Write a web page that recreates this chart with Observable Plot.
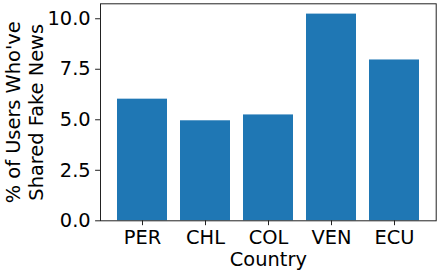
<!DOCTYPE html>
<html>
<head>
<meta charset="utf-8">
<script src="https://cdn.jsdelivr.net/npm/d3@7"></script>
<script src="https://cdn.jsdelivr.net/npm/@observablehq/plot@0.6"></script>
<style>
  html, body { margin: 0; padding: 0; background: #fff; }
  svg { display: block; }
  #chart svg text { font-size: 19.4px !important; font-family: "DejaVu Sans", sans-serif !important; font-variant-numeric: normal !important; }
</style>
</head>
<body>
<div id="chart"></div>
<script>
const countries = ["PER", "CHL", "COL", "VEN", "ECU"];
const shares = [6.02, 4.95, 5.24, 10.23, 7.96];
const yTicks = [0, 2.5, 5, 7.5, 10];
const xLabel = "Country";
const yLabel = "% of Users Who've\nShared Fake News";

const data = countries.map((c, i) => ({country: c, value: shares[i]}));
const font = "DejaVu Sans, sans-serif";
const fs = 19.4;

const chart = Plot.plot({
  width: 438,
  height: 273,
  marginLeft: 100,
  marginRight: 2.3,
  marginTop: 3.3,
  marginBottom: 52.7,
  style: {fontFamily: font, fontSize: "19.4px", color: "#000", background: "#fff"},
  x: {domain: countries, paddingInner: 0.2, paddingOuter: 0.24, align: 0.5, label: null},
  y: {domain: [0, 10.74], label: null},
  marks: [
    Plot.barY(data, {x: "country", y: "value", fill: "#1f77b4"}),
    Plot.axisY({ticks: yTicks, tickFormat: d3.format(".1f"), tickSize: 4.9, tickPadding: 4.9, fontSize: fs, stroke: "#222", fill: "#000", label: null}),
    Plot.axisX({tickSize: 4.9, tickPadding: 4.9, fontSize: fs, stroke: "#222", fill: "#000", label: null}),
    Plot.frame({stroke: "#222", strokeWidth: 1}),
    Plot.text([xLabel], {frameAnchor: "bottom", text: d => d, dy: 39, fontSize: fs, lineAnchor: "middle", fill: "#000"}),
    Plot.text([yLabel], {frameAnchor: "left", text: d => d, dx: -76.5, rotate: -90, fontSize: fs, lineAnchor: "middle", lineHeight: 1.2, textAnchor: "middle", fill: "#000"})
  ]
});
document.getElementById("chart").appendChild(chart);
</script>
</body>
</html>
